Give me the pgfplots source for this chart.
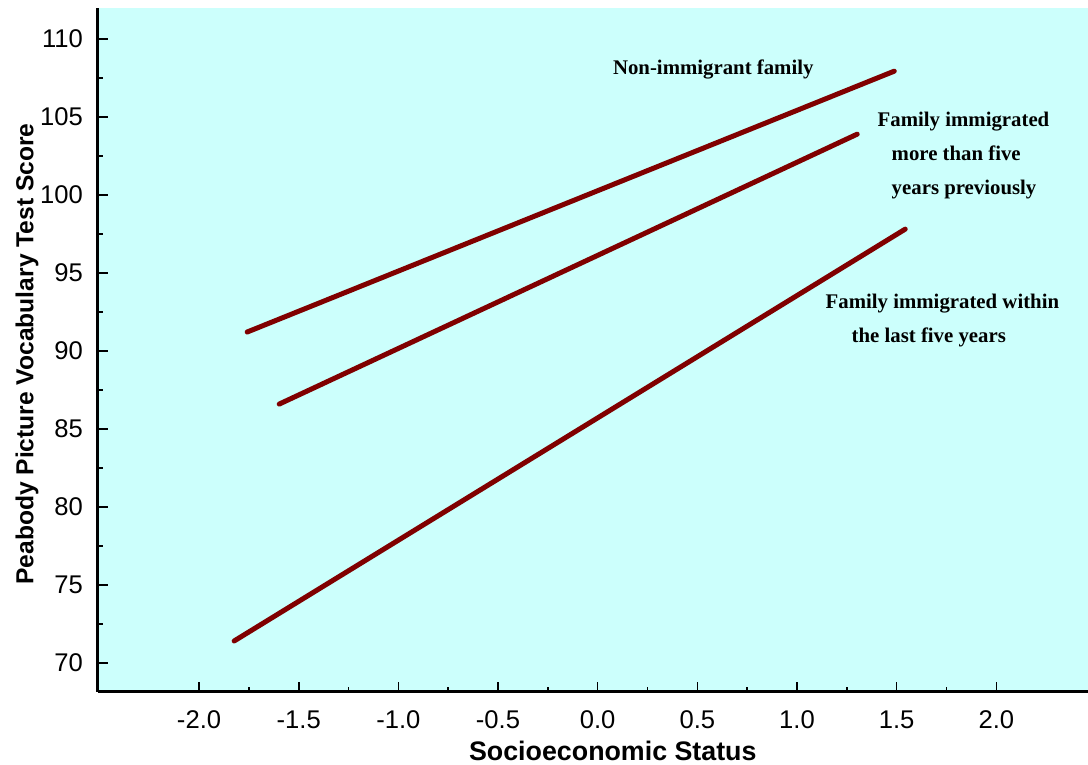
\documentclass[border=0pt]{standalone}
\usepackage{fontspec}
\setmainfont{Liberation Serif}
\setsansfont{Liberation Sans}
\usepackage{pgfplots}
\pgfplotsset{compat=1.18}
\definecolor{bgcyan}{RGB}{204,255,252}
\definecolor{linered}{RGB}{128,0,0}
\begin{document}
\begin{tikzpicture}
\path[use as bounding box] (-49pt,-36.5pt) rectangle (495pt,346pt);
\begin{axis}[
  at={(0,0)}, anchor=south west,
  scale only axis,
  width=495pt, height=342pt,
  xmin=-2.507, xmax=2.46,
  ymin=68.14, ymax=112,
  axis x line=bottom, axis y line=left,
  axis line style={-, line width=1.5pt, black},
  axis background/.style={fill=bgcyan},
  xtick={-2,-1.5,...,2},
  xticklabels={-2.0,-1.5,-1.0,-0.5,0.0,0.5,1.0,1.5,2.0},
  minor xtick={-1.75,-1.25,...,1.75},
  ytick={70,75,...,110},
  minor ytick={72.5,77.5,...,107.5},
  tick align=inside,
  major tick length=5pt, minor tick length=2.5pt,
  tick style={line width=0.8pt, black},
  /pgf/number format/assume math mode=true,
  tick label style={font=\sffamily\fontsize{12.8}{14}\selectfont},
  xticklabel style={yshift=-6pt},
  yticklabel style={xshift=-4pt},
  xlabel={Socioeconomic Status},
  ylabel={Peabody Picture Vocabulary Test Score},
  xlabel style={font=\sffamily\bfseries\fontsize{13.4}{14}\selectfont, at={(axis description cs:0.52,0)}, anchor=center, yshift=-29.5pt},
  ylabel style={font=\sffamily\bfseries\fontsize{12.3}{14}\selectfont, at={(axis description cs:0,0.494)}, anchor=center, yshift=35.5pt},
  clip=false,
]
\addplot[linered, line width=2.5pt, line cap=round] coordinates {(-1.759,91.22) (1.488,107.95)};
\addplot[linered, line width=2.5pt, line cap=round] coordinates {(-1.598,86.6) (1.302,103.91)};
\addplot[linered, line width=2.5pt, line cap=round] coordinates {(-1.824,71.41) (1.543,97.82)};
\node[font=\bfseries\fontsize{10.4}{17}\selectfont] at (axis cs:0.58,108.08) {Non-immigrant family};
\node[font=\bfseries\fontsize{10.4}{17}\selectfont, align=left, anchor=west, inner sep=0pt] at (axis cs:1.403,102.56) {Family immigrated\\\hspace*{7pt}more than five\\\hspace*{7pt}years previously};
\node[font=\bfseries\fontsize{10.4}{17}\selectfont, align=left, anchor=west, inner sep=0pt] at (axis cs:1.142,91.99) {Family immigrated within\\\hspace*{13pt}the last five years};
\end{axis}
\end{tikzpicture}
\end{document}
